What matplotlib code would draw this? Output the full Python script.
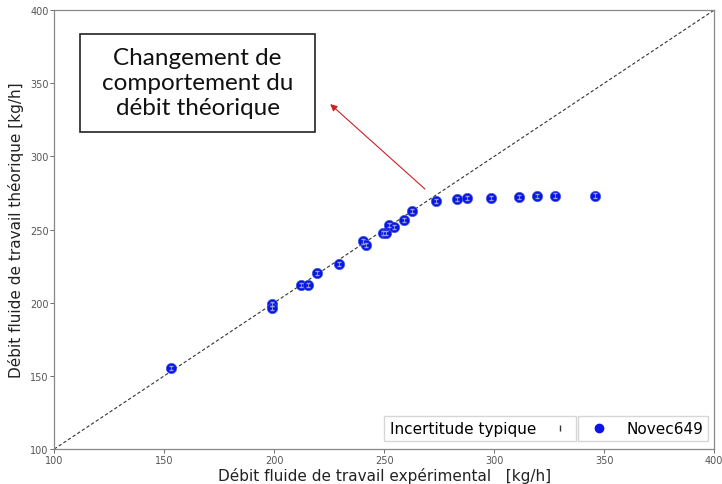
import matplotlib
matplotlib.use("Agg")
import matplotlib.pyplot as plt
from matplotlib.lines import Line2D
from matplotlib.patches import Rectangle

exp_flow = [153, 199, 199, 212.3, 215.5, 219.5, 229.5, 240.5, 241.8, 249.5, 251,
            252.3, 254.5, 259, 262.7, 273.6, 283.2, 287.7, 298.6, 311.4, 319.5,
            327.7, 346]
theo_flow = [155.5, 199, 196.5, 212, 212, 220.3, 226.5, 242, 239.5, 247.6, 247.6,
             253, 251.7, 256.5, 262.7, 269.5, 270.9, 271.6, 271.6, 272.3, 272.8,
             273.2, 273.2]
uncert = [1.5] * len(exp_flow)

ticks = [100, 150, 200, 250, 300, 350, 400]
series_label = "Novec649"
err_label = "Incertitude typique"
note = "Changement de\ncomportement du\ndébit théorique"

fig = plt.figure(figsize=(7.22, 4.85), dpi=100)
ax = fig.add_axes([0.075, 0.072, 0.914, 0.905])

ax.plot([100, 400], [100, 400], ls="--", color="#333333", lw=0.8, dashes=(3, 2), zorder=1)
ax.scatter(exp_flow, theo_flow, s=55, color="#0a14e6", edgecolors="#3a5ad8",
           linewidths=0.5, zorder=3)
ax.errorbar(exp_flow, theo_flow, yerr=uncert, fmt="none", ecolor="#9aa4c8",
            elinewidth=0.6, capsize=1.2, zorder=4)

ax.set_xlim(100, 400)
ax.set_ylim(100, 400)
ax.set_xticks(ticks)
ax.set_yticks(ticks)
ax.tick_params(labelsize=7, colors="#555555", length=3, width=0.6, pad=1)
for sp in ax.spines.values():
    sp.set_color("#888888")
    sp.set_linewidth(0.9)

ax.set_xlabel("Débit fluide de travail expérimental   [kg/h]", fontsize=11,
              color="#222222", labelpad=2)
ax.set_ylabel("Débit fluide de travail théorique [kg/h]", fontsize=11,
              color="#222222", labelpad=4)

# annotation box
ax.add_patch(Rectangle((111.8, 316.7), 106.8, 67.0, fc="white", ec="#222222",
                       lw=1.2, zorder=5))
ax.text(165.2, 350.5, note, ha="center", va="center", fontsize=17.5, family="Lato",
        linespacing=1.25, color="#111111", zorder=6)
ax.annotate("", xy=(225.5, 335.8), xytext=(268.6, 277.7),
            arrowprops=dict(arrowstyle="-|>", color="#cc2222", lw=0.8,
                            mutation_scale=10, shrinkA=0, shrinkB=0))

# legends
eb_handle = Line2D([0], [0], ls="none", marker="|", color="#333333", markersize=5)
leg1 = ax.legend([eb_handle], [err_label], loc="lower right",
                 bbox_to_anchor=(0.803, 0.0), fontsize=11, markerfirst=False,
                 frameon=True, fancybox=False, edgecolor="#cccccc",
                 handlelength=1.5, borderpad=0.35)
ax.add_artist(leg1)
pt_handle = Line2D([0], [0], ls="none", marker="o", color="#0a14e6", markersize=6)
ax.legend([pt_handle], [series_label], loc="lower right", bbox_to_anchor=(1.003, 0.0),
          fontsize=11, frameon=True, fancybox=False, edgecolor="#cccccc",
          handlelength=2.0, borderpad=0.35)

fig.savefig("out.png", dpi=100)
